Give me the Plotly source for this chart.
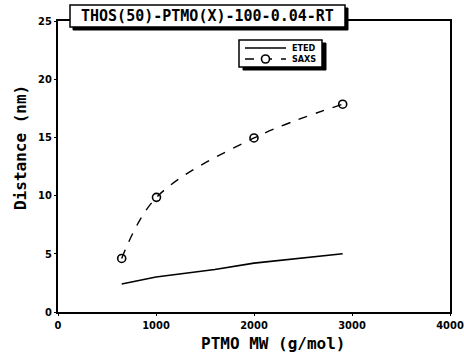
import plotly.graph_objects as go

mw_saxs = [650, 1005, 2000, 2905]
saxs = [4.6, 9.85, 14.95, 17.85]
mw_eted = [650, 1000, 1600, 2000, 2905]
eted = [2.4, 3.0, 3.65, 4.2, 5.0]
series_names = ["ETED", "SAXS"]
title_text = "THOS(50)-PTMO(X)-100-0.04-RT"

W, H = 464, 355
PL, PR, PT, PB = 58, 450, 21, 312
pw, ph = PR - PL, PB - PT

def px(x):
    return (x - PL) / pw

def py(y):
    return (PB - y) / ph

fig = go.Figure()
fig.add_trace(go.Scatter(x=mw_eted, y=eted, mode="lines", name=series_names[0],
                         line=dict(color="black", width=1.6)))
fig.add_trace(go.Scatter(x=mw_saxs, y=saxs, mode="lines+markers", name=series_names[1],
                         line=dict(color="black", width=1.4, dash="dash", shape="spline"),
                         marker=dict(symbol="circle-open", size=8, color="black",
                                     line=dict(width=1.6, color="black"))))

tickfont = dict(family="DejaVu Sans Condensed", size=11, color="black", weight="bold")
axis_common = dict(showline=True, linecolor="black", linewidth=2, mirror=True,
                   showgrid=False, zeroline=False, ticks="outside", ticklen=2,
                   tickcolor="black", tickfont=tickfont, automargin=False)

fig.update_layout(
    width=W, height=H,
    margin=dict(l=PL, r=W - PR, t=PT, b=H - PB, autoexpand=False),
    paper_bgcolor="white", plot_bgcolor="white",
    xaxis=dict(range=[0, 4000], tickvals=[0, 1000, 2000, 3000, 4000], **axis_common),
    yaxis=dict(range=[0, 25], tickvals=[0, 5, 10, 15, 20, 25], **axis_common),
    showlegend=False,
)

def rect(x0, x1, y0, y1, fill, lw):
    fig.add_shape(type="rect", xref="paper", yref="paper",
                  x0=px(x0), x1=px(x1), y0=py(y1), y1=py(y0),
                  fillcolor=fill, line=dict(color="black", width=lw), layer="above")

def text(t, x, y, font, xanchor="center", angle=0):
    fig.add_annotation(text=t, xref="paper", yref="paper", x=px(x), y=py(y),
                       xanchor=xanchor, yanchor="middle", textangle=angle,
                       showarrow=False, font=font)

# title box with shadow
rect(73, 348, 8, 30, "black", 1)
rect(70, 345, 5, 27, "white", 1.5)
text(title_text, 207.5, 16,
     dict(family="DejaVu Sans Mono", size=15, color="black", weight="bold"))

# legend box with shadow
rect(243, 326, 43, 70, "black", 1)
rect(239, 322, 40, 67, "white", 1.5)
fig.add_shape(type="line", xref="paper", yref="paper",
              x0=px(245), x1=px(286), y0=py(48), y1=py(48),
              line=dict(color="black", width=1.4), layer="above")
fig.add_shape(type="line", xref="paper", yref="paper",
              x0=px(245), x1=px(286), y0=py(59), y1=py(59),
              line=dict(color="black", width=1.4, dash="dash"), layer="above")
fig.add_shape(type="circle", xref="paper", yref="paper",
              x0=px(261.5), x1=px(269.5), y0=py(63), y1=py(55),
              fillcolor="white", line=dict(color="black", width=1.6), layer="above")
legend_font = dict(family="DejaVu Sans Condensed", size=9, color="black", weight="bold")
for name, yy in zip(series_names, [48, 59]):
    text(name, 318, yy, legend_font, xanchor="right")

text("Distance (nm)", 20, 148,
     dict(family="DejaVu Sans Mono", size=16, color="black", weight="bold"), angle=-90)
text("PTMO MW (g/mol)", 273, 343,
     dict(family="DejaVu Sans Mono", size=16, color="black", weight="bold"))

fig.write_html("out.html", config={"displayModeBar": False},
               post_script="document.body.style.margin='0px';")
